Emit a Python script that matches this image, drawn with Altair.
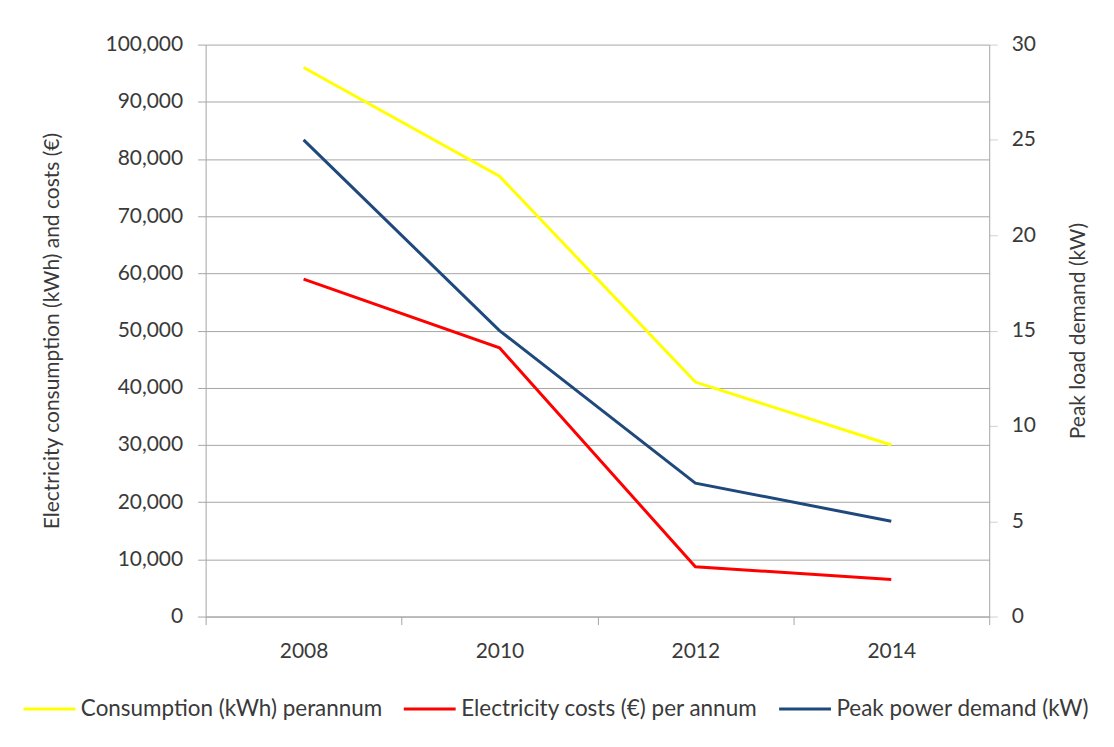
import altair as alt
import pandas as pd

years = ["2008", "2010", "2012", "2014"]
consumption = [96000, 77000, 41000, 30000]
costs = [59000, 47000, 8700, 6500]
peak = [25, 15, 7, 5]

names = ["Consumption (kWh) perannum", "Electricity costs (€) per annum", "Peak power demand (kW)"]
colors = ["#FFFF00", "#FF0000", "#1F497D"]

left_df = pd.DataFrame({
    "year": years * 2,
    "value": consumption + costs,
    "series": [names[0]] * 4 + [names[1]] * 4,
})
right_df = pd.DataFrame({"year": years, "value": peak, "series": [names[2]] * 4})

FONT = "Lato"
TXT = "#3a3a3a"
GRID = "#a6a6a6"

color = alt.Color(
    "series:N",
    scale=alt.Scale(domain=names, range=colors),
    legend=alt.Legend(
        title=None, orient="none", direction="horizontal",
        legendX=-184, legendY=638,
        symbolType="stroke", symbolSize=2700, symbolStrokeWidth=3,
        labelFont=FONT, labelFontSize=22.5, labelColor=TXT, labelLimit=500,
        labelOffset=4, columnPadding=14, padding=0,
    ),
)

xenc = alt.X(
    "year:O",
    scale=alt.Scale(type="band", paddingInner=0, paddingOuter=0),
    axis=alt.Axis(
        title=None, tickBand="extent", labelAngle=0, grid=False,
        labelFont=FONT, labelFontSize=21, labelColor=TXT, labelPadding=16,
        domainColor=GRID, tickColor=GRID, tickSize=8,
    ),
)

left = alt.Chart(left_df).mark_line(strokeWidth=3).encode(
    x=xenc,
    y=alt.Y(
        "value:Q",
        scale=alt.Scale(domain=[0, 100000], nice=False),
        axis=alt.Axis(
            title="Electricity consumption (kWh) and costs (€)",
            values=list(range(0, 100001, 10000)), format=",.0f",
            labelFont=FONT, labelFontSize=21, labelColor=TXT, labelPadding=15,
            titleFont=FONT, titleFontSize=21, titleColor=TXT, titleFontWeight="normal",
            titlePadding=43,
            grid=True, gridColor=GRID, domainColor=GRID, tickColor=GRID, tickSize=8,
        ),
    ),
    color=color,
)

right = alt.Chart(right_df).mark_line(strokeWidth=3).encode(
    x=xenc,
    y=alt.Y(
        "value:Q",
        scale=alt.Scale(domain=[0, 30], nice=False),
        axis=alt.Axis(
            title="Peak load demand (kW)", orient="right",
            values=list(range(0, 31, 5)),
            labelFont=FONT, labelFontSize=21, labelColor=TXT, labelPadding=14,
            titleFont=FONT, titleFontSize=21, titleColor=TXT, titleFontWeight="normal",
            titleAngle=270, titleBaseline="top",
            titlePadding=32,
            grid=False, domainColor=GRID, tickColor="#d0d0d0", tickSize=8,
        ),
    ),
    color=color,
)

chart = alt.layer(left, right).resolve_scale(y="independent").properties(
    width=785, height=573, background="white",
    autosize=alt.AutoSizeParams(type="none"),
    padding={"left": 198, "top": 36, "right": 117, "bottom": 124},
).configure_view(stroke=None)

chart.save("out.html", embed_options={"renderer": "svg", "actions": False})
